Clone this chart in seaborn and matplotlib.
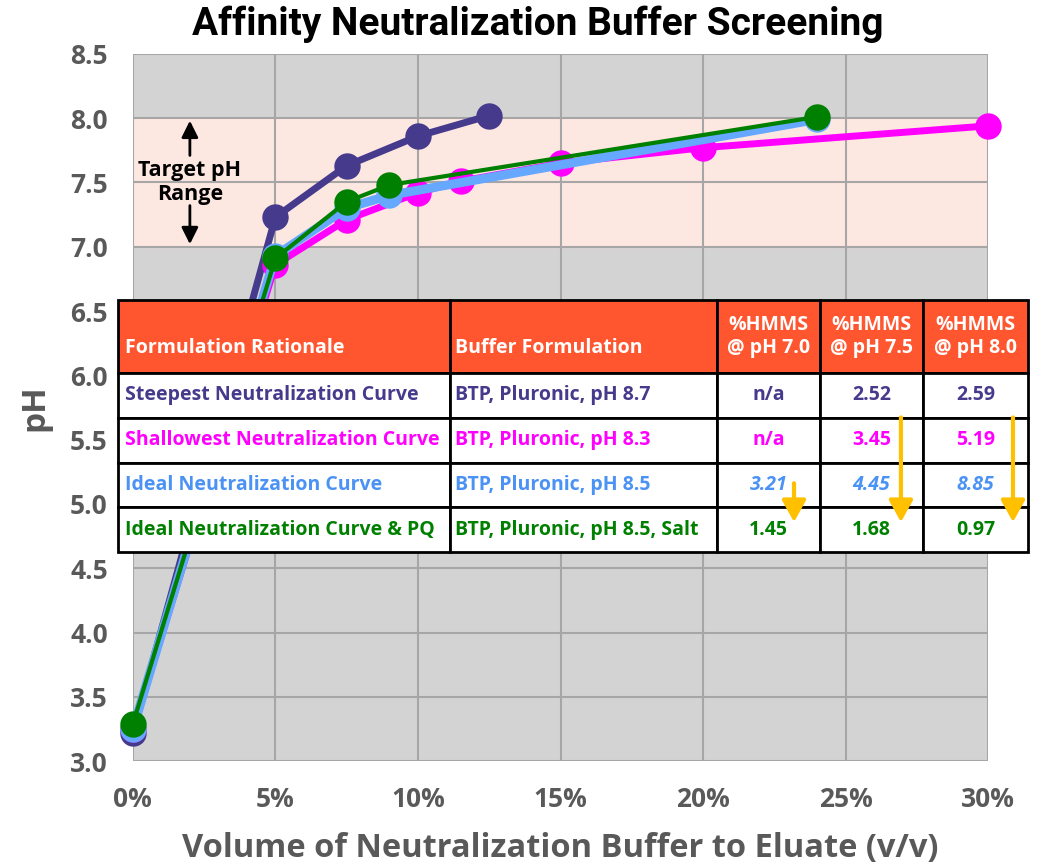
import numpy as np
import pandas as pd
import matplotlib.pyplot as plt
import seaborn as sns
from matplotlib.ticker import PercentFormatter, MultipleLocator

# volume of buffer (% v/v) and measured pH for each buffer formulation
steep_x = [0, 5, 7.5, 10, 12.5]
steep_ph = [3.22, 7.23, 7.63, 7.86, 8.02]
shallow_x = [0, 5, 7.5, 10, 11.5, 15, 20, 30]
shallow_ph = [3.25, 6.86, 7.21, 7.42, 7.51, 7.65, 7.77, 7.94]
ideal_x = [0, 5, 7.5, 9, 24]
ideal_ph = [3.25, 6.93, 7.30, 7.40, 7.99]
ideal_pq_x = [0, 5, 7.5, 9, 24]
ideal_pq_ph = [3.29, 6.91, 7.35, 7.48, 8.01]

# table contents
col_labels = ["\nFormulation Rationale", "\nBuffer Formulation",
              "%HMMS\n@ pH 7.0", "%HMMS\n@ pH 7.5", "%HMMS\n@ pH 8.0"]
rationale = ["Steepest Neutralization Curve", "Shallowest Neutralization Curve",
             "Ideal Neutralization Curve", "Ideal Neutralization Curve & PQ"]
formulation = ["BTP, Pluronic, pH 8.7", "BTP, Pluronic, pH 8.3",
               "BTP, Pluronic, pH 8.5", "BTP, Pluronic, pH 8.5, Salt"]
hmms_70 = ["n/a", "n/a", "3.21", "1.45"]
hmms_75 = ["2.52", "3.45", "4.45", "1.68"]
hmms_80 = ["2.59", "5.19", "8.85", "0.97"]

purple = "#463a8c"
magenta = "#ff00ff"
light_blue = "#66a8ff"
blue_text = "#4b92f5"
green = "#008000"
row_colors = [purple, magenta, blue_text, green]
header_orange = "#ff5630"
gray_text = "#595959"

sns.set_style("white", {"axes.facecolor": "#d3d3d3", "grid.color": "#a6a6a6"})
plt.rcParams["font.family"] = ["Open Sans", "DejaVu Sans"]

fig = plt.figure(figsize=(10.38, 8.68), dpi=100)
ax = fig.add_axes([0.128, 0.123, 0.824, 0.815])

ax.axhspan(7.0, 8.0, color="#fde7e1", zorder=0.3)
ax.grid(True, linewidth=1.5, color="#a6a6a6")

line_kw = dict(marker="o", markersize=19, markeredgewidth=0, ax=ax, clip_on=False)
sns.lineplot(x=steep_x, y=steep_ph, color=purple, linewidth=5, zorder=2, **line_kw)
sns.lineplot(x=shallow_x, y=shallow_ph, color=magenta, linewidth=5, zorder=3, **line_kw)
sns.lineplot(x=ideal_x, y=ideal_ph, color=light_blue, linewidth=6.5, zorder=4, **line_kw)
sns.lineplot(x=ideal_pq_x, y=ideal_pq_ph, color=green, linewidth=3, zorder=5, **line_kw)

ax.set_xlim(0, 30)
ax.set_ylim(3.0, 8.5)
ax.xaxis.set_major_locator(MultipleLocator(5))
ax.yaxis.set_major_locator(MultipleLocator(0.5))
ax.xaxis.set_major_formatter(PercentFormatter(xmax=100, decimals=0))
ax.yaxis.set_major_formatter(plt.FormatStrFormatter("%.1f"))
ax.tick_params(length=0, labelsize=19, labelcolor=gray_text, pad=18)
for lab in ax.get_xticklabels() + ax.get_yticklabels():
    lab.set_fontweight("bold")
for s in ax.spines.values():
    s.set_visible(False)

ax.set_xlabel("Volume of Neutralization Buffer to Eluate (v/v)", fontsize=23.5,
              fontweight="bold", color=gray_text)
ax.set_ylabel("pH", fontsize=24, fontweight="bold", color=gray_text)
ax.xaxis.set_label_coords(0.5, -0.1)
ax.yaxis.set_label_coords(-0.095, 0.5)

fig.text(0.518, 0.972, "Affinity Neutralization Buffer Screening", ha="center",
         va="center", fontsize=28, fontweight="bold", color="black",
         family=["Roboto", "DejaVu Sans"])

# target pH range marker
ax.text(2, 7.5, "Target pH\nRange", ha="center", va="center", fontsize=15.5,
        fontweight="bold", color="black", linespacing=1.15, zorder=6)
arrow_black = dict(arrowstyle="-|>,head_length=0.5,head_width=0.25",
                   color="black", lw=2, mutation_scale=20, shrinkA=0, shrinkB=0)
ax.annotate("", xy=(2, 7.98), xytext=(2, 7.71), arrowprops=arrow_black)
ax.annotate("", xy=(2, 7.02), xytext=(2, 7.32), arrowprops=arrow_black)

# results table
cell_text = [list(r) for r in zip(rationale, formulation, hmms_70, hmms_75, hmms_80)]
widths = np.array([332, 267, 103, 103, 105], dtype=float)
tbl = ax.table(cellText=cell_text, colLabels=col_labels, colWidths=widths / widths.sum(),
               cellLoc="center", bbox=[-0.0175, 0.2954, 1.064, 0.3565])
tbl.auto_set_font_size(False)
tbl.set_fontsize(14)
tbl.set_zorder(10)
base_h = tbl[1, 0].get_height()
for (r, c), cell in tbl.get_celld().items():
    cell.set_edgecolor("black")
    cell.set_linewidth(2)
    txt = cell.get_text()
    txt.set_fontweight("bold")
    if c < 2:
        cell._loc = "left"
        cell.PAD = 0.02
        txt.set_ha("left")
    if r == 0:
        cell.set_facecolor(header_orange)
        cell.set_height(base_h * 73 / 45)
        txt.set_color("white")
    else:
        cell.set_facecolor("white")
        txt.set_color(row_colors[r - 1])
        if r == 3 and c >= 2:
            txt.set_fontstyle("italic")

# improvement arrows in the table
arrow_kw = dict(arrowstyle="-|>,head_length=0.6,head_width=0.33", color="#ffc000",
                lw=3, mutation_scale=22, shrinkA=0, shrinkB=0)
for xa, ytop in [(0.773, 0.393), (0.898, 0.486), (1.029, 0.486)]:
    ax.annotate("", xy=(xa, 0.338), xytext=(xa, ytop), xycoords="axes fraction",
                textcoords="axes fraction", arrowprops=arrow_kw,
                annotation_clip=False, zorder=12)

plt.savefig("out.png", dpi=100)
